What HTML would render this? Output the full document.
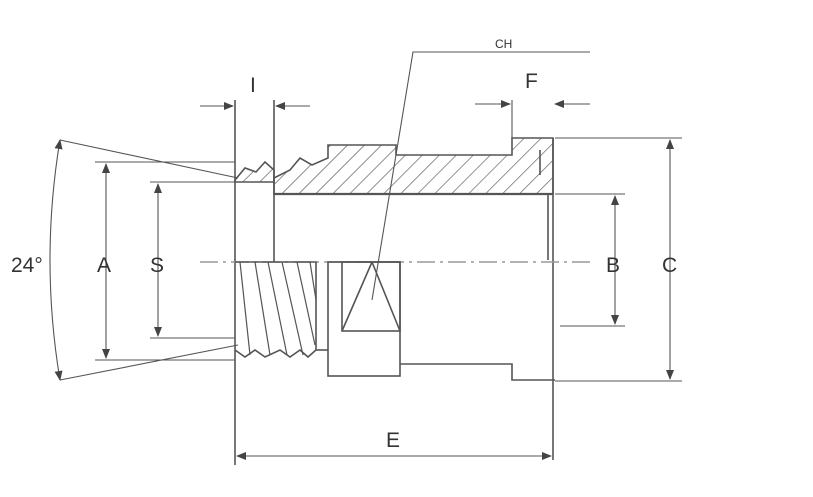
<!DOCTYPE html>
<html><head><style>body{margin:0;background:#fff}svg{display:block}</style></head><body>
<svg width="813" height="497" viewBox="0 0 813 497" xmlns="http://www.w3.org/2000/svg" font-family="Liberation Sans, sans-serif">
<defs>
<pattern id="h" width="12" height="12" patternUnits="userSpaceOnUse" patternTransform="rotate(45)">
<line x1="0" y1="0" x2="0" y2="12" stroke="#555" stroke-width="1.3"/></pattern>
<marker id="a" markerWidth="10" markerHeight="8" refX="9" refY="4" orient="auto-start-reverse" markerUnits="userSpaceOnUse">
<path d="M0,0 L10,4 L0,8 z" fill="#444"/></marker>
</defs>
<g stroke="#555" stroke-width="1.6" fill="none">
<path d="M274,194 L274,178 L290,170 L300,158 L312,165 L328,158 L328,145 L396,145 L396,155 L512,155 L512,138 L553,138 L553,194 Z" fill="url(#h)"/>
<path d="M235,180 L245,168 L256,172 L265,162 L274,170 L274,182 L235,182 Z" fill="url(#h)"/>
<line x1="274" y1="194" x2="553" y2="194" stroke-width="2.2"/>
<line x1="235" y1="100" x2="235" y2="465"/>
<line x1="274" y1="100" x2="274" y2="262"/>
<line x1="553" y1="138" x2="553" y2="460"/>
<line x1="548" y1="194" x2="548" y2="260"/>
<line x1="540" y1="150" x2="540" y2="175"/>
<line x1="200" y1="262" x2="590" y2="262" stroke="#999" stroke-dasharray="18,5,3,5"/>
<path d="M235,262 L316,262 L316,350 L308,357 L300,350 L290,357 L280,350 L265,357 L255,350 L245,357 L235,350" fill="none"/>
<g stroke-width="1.2">
<line x1="240" y1="262" x2="250" y2="355"/><line x1="255" y1="262" x2="270" y2="355"/>
<line x1="268" y1="262" x2="287" y2="355"/><line x1="282" y1="262" x2="303" y2="355"/>
<line x1="297" y1="262" x2="315" y2="345"/><line x1="310" y1="262" x2="316" y2="300"/>
</g>
<line x1="316" y1="350" x2="328" y2="350"/>
<rect x="328" y="262" width="72" height="114"/>
<rect x="342" y="262" width="58" height="69"/>
<path d="M372,262 L342,331 M372,262 L400,331"/>
<path d="M400,364 L512,364 L512,380 L555,380"/>
<path d="M372,300 L413,52 L590,52" stroke-width="1.1"/>
<path d="M60,140 L238,178 M60,380 L238,345" stroke-width="1.1"/>
<path d="M60,140 Q40,260 60,380" stroke-width="1.1" marker-start="url(#a)" marker-end="url(#a)"/>
<line x1="95" y1="162" x2="235" y2="162" stroke-width="1.1"/>
<line x1="95" y1="360" x2="235" y2="360" stroke-width="1.1"/>
<line x1="106" y1="164" x2="106" y2="358" stroke-width="1.1" marker-start="url(#a)" marker-end="url(#a)"/>
<line x1="150" y1="182" x2="235" y2="182" stroke-width="1.1"/>
<line x1="150" y1="338" x2="235" y2="338" stroke-width="1.1"/>
<line x1="158" y1="184" x2="158" y2="336" stroke-width="1.1" marker-start="url(#a)" marker-end="url(#a)"/>
<line x1="555" y1="194" x2="625" y2="194" stroke-width="1.1"/>
<line x1="560" y1="326" x2="625" y2="326" stroke-width="1.1"/>
<line x1="615" y1="196" x2="615" y2="324" stroke-width="1.1" marker-start="url(#a)" marker-end="url(#a)"/>
<line x1="555" y1="138" x2="682" y2="138" stroke-width="1.1"/>
<line x1="555" y1="381" x2="682" y2="381" stroke-width="1.1"/>
<line x1="670" y1="140" x2="670" y2="379" stroke-width="1.1" marker-start="url(#a)" marker-end="url(#a)"/>
<line x1="200" y1="106" x2="233" y2="106" stroke-width="1.1" marker-end="url(#a)"/>
<line x1="310" y1="106" x2="276" y2="106" stroke-width="1.1" marker-end="url(#a)"/>
<line x1="512" y1="100" x2="512" y2="138" stroke-width="1.1"/>
<line x1="475" y1="104" x2="510" y2="104" stroke-width="1.1" marker-end="url(#a)"/>
<line x1="590" y1="104" x2="555" y2="104" stroke-width="1.1" marker-end="url(#a)"/>
<line x1="237" y1="456" x2="551" y2="456" stroke-width="1.1" marker-start="url(#a)" marker-end="url(#a)"/>
</g>
<g fill="#333" font-size="21">
<text x="11" y="272">24°</text>
<text x="97" y="272">A</text>
<text x="150" y="272">S</text>
<text x="606" y="272">B</text>
<text x="662" y="272">C</text>
<text x="386" y="447">E</text>
<text x="525" y="88">F</text>
<text x="250" y="92">I</text>
<text x="495" y="48" font-size="12">CH</text>
</g>
</svg>
</body></html>
